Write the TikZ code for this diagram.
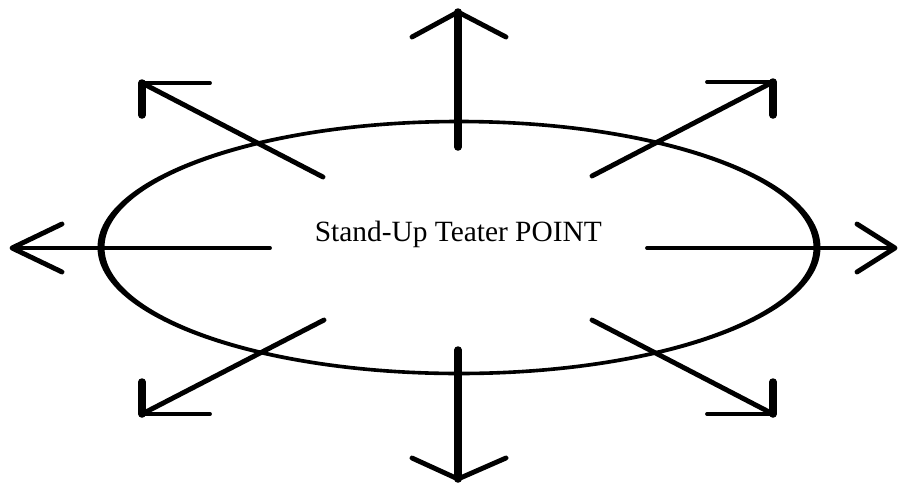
\documentclass[tikz,border=0pt]{standalone}
\usepackage{fontspec}
\setmainfont{Liberation Serif}
\begin{document}
\begin{tikzpicture}[x=1pt,y=-1pt,
  vline/.style={line width=7.5pt,line cap=round},
  hline/.style={line width=3.8pt,line cap=round},
  dline/.style={line width=4.9pt,line cap=round,line join=round}]
\useasboundingbox (0,0) rectangle (898,483);
% ellipse ring (thicker at the sides, as in a stretched drawing)
\fill[even odd rule] (459,247.5) ellipse [x radius=361.5pt, y radius=127.8pt]
                     (459,247.5) ellipse [x radius=354.5pt, y radius=124.2pt];
\node[anchor=base,inner sep=0pt,font=\fontsize{29.4}{31}\selectfont] (label) at (458.3,241) {Stand-Up Teater POINT};
% coordinates
\coordinate (uT) at (458,147); \coordinate (uH) at (458,12);
\coordinate (uA) at (412,37);  \coordinate (uB) at (506,37);
\coordinate (dT) at (458,350); \coordinate (dH) at (458,479);
\coordinate (dA) at (412,458); \coordinate (dB) at (506,458);
\coordinate (lT) at (270,248); \coordinate (lH) at (12,248);
\coordinate (lA) at (62,224);  \coordinate (lB) at (62,272);
\coordinate (rT) at (647,248); \coordinate (rH) at (895,248);
\coordinate (rA) at (857,224); \coordinate (rB) at (857,272);
\coordinate (ulT) at (323,177); \coordinate (ulH) at (142,83);
\coordinate (ulA) at (210,83);  \coordinate (ulB) at (142,115);
\coordinate (urT) at (592,176); \coordinate (urH) at (773,82);
\coordinate (urA) at (707,82);  \coordinate (urB) at (773,115);
\coordinate (llT) at (324,320); \coordinate (llH) at (142,414);
\coordinate (llA) at (210,414); \coordinate (llB) at (142,382);
\coordinate (lrT) at (592,320); \coordinate (lrH) at (773,414);
\coordinate (lrA) at (707,414); \coordinate (lrB) at (773,382);
% vertical arrows
\draw[vline] (uT) -- (uH);
\draw[dline] (uA) -- (uH) -- (uB);
\draw[vline] (dT) -- (dH);
\draw[dline] (dA) -- (dH) -- (dB);
% horizontal arrows
\draw[hline] (lT) -- (lH);
\draw[dline] (lA) -- (lH) -- (lB);
\draw[hline] (rT) -- (rH);
\draw[dline] (rA) -- (rH) -- (rB);
% diagonal arrows
\draw[dline] (ulT) -- (ulH);
\draw[hline] (ulH) -- (ulA);
\draw[vline] (ulH) -- (ulB);
\draw[dline] (urT) -- (urH);
\draw[hline] (urH) -- (urA);
\draw[vline] (urH) -- (urB);
\draw[dline] (llT) -- (llH);
\draw[hline] (llH) -- (llA);
\draw[vline] (llH) -- (llB);
\draw[dline] (lrT) -- (lrH);
\draw[hline] (lrH) -- (lrA);
\draw[vline] (lrH) -- (lrB);
\end{tikzpicture}
\end{document}
